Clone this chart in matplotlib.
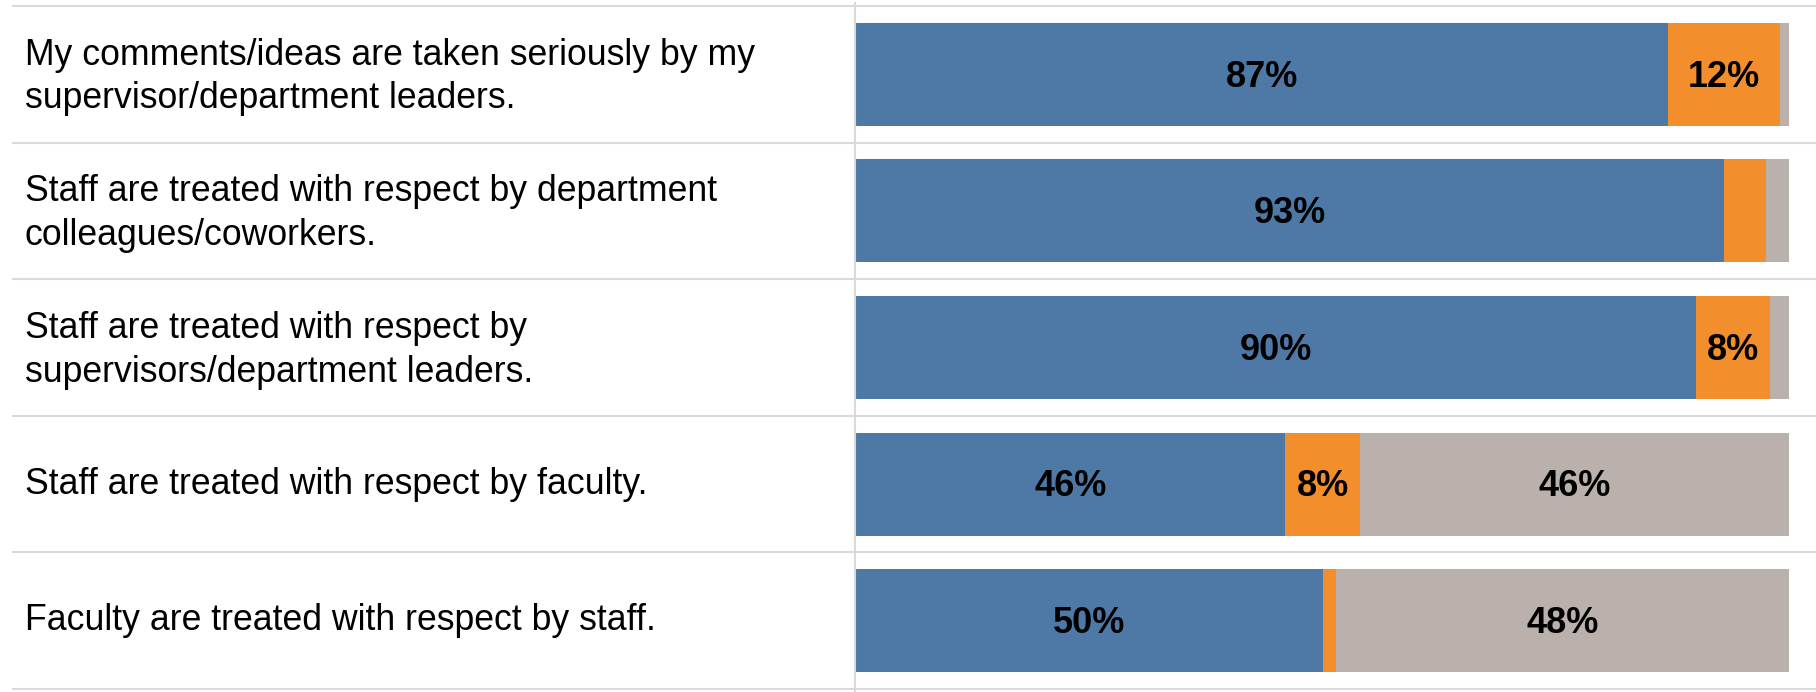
import matplotlib.pyplot as plt
import matplotlib.transforms as mtransforms

plt.rcParams['font.family'] = ['Liberation Sans', 'DejaVu Sans']

# ---------------------------------------------------------------------------
# Data
# ---------------------------------------------------------------------------

statements = [
    "My comments/ideas are taken seriously by my\nsupervisor/department leaders.",
    "Staff are treated with respect by department\ncolleagues/coworkers.",
    "Staff are treated with respect by\nsupervisors/department leaders.",
    "Staff are treated with respect by faculty.",
    "Faculty are treated with respect by staff.",
]
agree = [87, 93, 90, 46, 50]
disagree = [12, 4.5, 8, 8, 1.5]
na = [1, 2.5, 2, 46, 48.5]

colors = ["#4E79A7", "#F28E2B", "#BAB0AC"]
grid_color = "#d9d9d9"

W, H = 1816, 692
fig = plt.figure(figsize=(W / 100, H / 100), dpi=100)

# axes: bars start at x=856px, 100% at x=1789px; rows span y=6..689px
left_px, right_px = 856, 1816
top_px, bottom_px = 6, 689
ax = fig.add_axes([left_px / W, (H - bottom_px) / H,
                   (right_px - left_px) / W, (bottom_px - top_px) / H])
ax.set_xlim(0, 100 * (right_px - left_px) / (1789 - left_px))
n = len(statements)
ax.set_ylim(n - 0.5, -0.5)
ax.axis("off")

bar_h = 0.755
for i in range(n):
    segs = [agree[i], disagree[i], na[i]]
    start = 0
    for val, col in zip(segs, colors):
        ax.barh(i, val, left=start, height=bar_h, color=col, edgecolor="none")
        if val >= 6:
            ax.annotate(f"{val:.0f}%", (start + val / 2, i), xytext=(0, -2),
                        textcoords="offset points", ha="center", va="center",
                        fontsize=26, fontweight="bold", color="black")
        start += val

# horizontal separators from the label column to the right edge
trans = mtransforms.blended_transform_factory(fig.transFigure, ax.transData)
for b in range(n + 1):
    ax.plot([13 / W, 1.0], [b - 0.5, b - 0.5], transform=trans,
            color=grid_color, lw=1.5, clip_on=False, zorder=0)

# vertical divider between labels and bars
fig.add_artist(plt.Line2D([855 / W, 855 / W], [0, (H - 3) / H],
                          transform=fig.transFigure, color=grid_color, lw=1.5))

# statement labels
for i, s in enumerate(statements):
    dy = -2 if "\n" in s else 0
    ax.annotate(s, (25 / W, i), xycoords=trans, xytext=(0, dy),
                textcoords="offset points", ha="left", va="center",
                fontsize=25.7, color="black", linespacing=1.32)

fig.savefig("out.png", dpi=100)
